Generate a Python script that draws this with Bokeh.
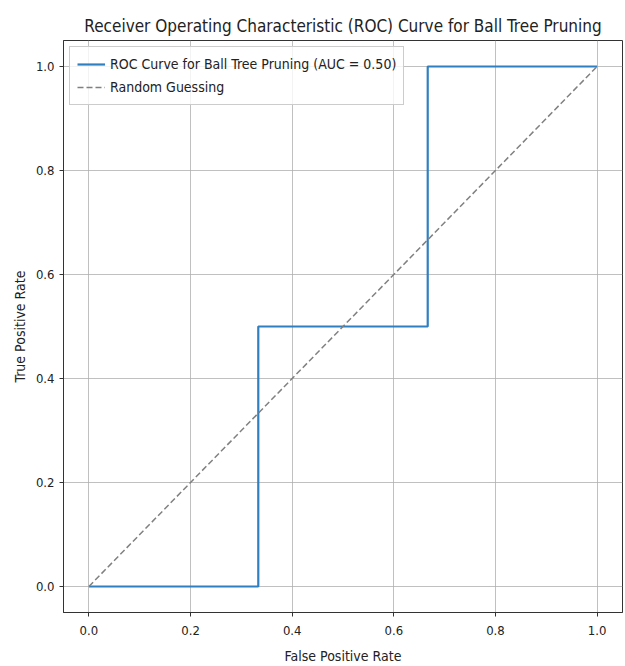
from bokeh.plotting import figure
from bokeh.models import Range1d, Legend, LegendItem, FixedTicker, CustomJSTickFormatter
from bokeh.embed import file_html
from bokeh.resources import INLINE

fpr = [0.0, 0.3333, 0.3333, 0.6667, 0.6667, 1.0]
tpr = [0.0, 0.0, 0.5, 0.5, 1.0, 1.0]
diag_x = [0.0, 1.0]
diag_y = [0.0, 1.0]
ticks = [0.0, 0.2, 0.4, 0.6, 0.8, 1.0]

FONT = "'Liberation Sans Narrow', 'DejaVu Sans Condensed', 'Roboto Condensed', 'DejaVu Sans', sans-serif"

p = figure(width=625, height=666, output_backend="svg", toolbar_location=None,
           x_range=Range1d(-0.05, 1.05), y_range=Range1d(-0.05, 1.05),
           title="Receiver Operating Characteristic (ROC) Curve for Ball Tree Pruning",
           min_border_left=63, min_border_right=3, min_border_top=40, min_border_bottom=53)

p.title.align = "center"
p.title.text_font = FONT
p.title.text_font_size = "17px"
p.title.text_font_style = "normal"
p.title.text_color = "#222222"

fmt = CustomJSTickFormatter(code="return tick.toFixed(1);")
for ax in (p.xaxis, p.yaxis):
    ax.ticker = FixedTicker(ticks=ticks)
    ax.formatter = fmt
    ax.major_label_text_font = FONT
    ax.major_label_text_font_size = "13px"
    ax.major_label_text_color = "#222222"
    ax.axis_label_text_font = FONT
    ax.axis_label_text_font_size = "14px"
    ax.axis_label_text_font_style = "normal"
    ax.axis_label_text_color = "#222222"
    ax.major_tick_in = 0
    ax.major_tick_out = 4
    ax.minor_tick_line_color = None
    ax.axis_line_color = "#333333"
    ax.major_tick_line_color = "#333333"

p.xaxis.major_label_standoff = 9
p.xaxis.axis_label_standoff = 10
p.xaxis.axis_label = "False Positive Rate"
p.yaxis.axis_label = "True Positive Rate"

p.outline_line_color = "#333333"
p.xgrid.ticker = FixedTicker(ticks=ticks)
p.ygrid.ticker = FixedTicker(ticks=ticks)
p.grid.grid_line_color = "#b0b0b0"
p.grid.grid_line_width = 0.8

r1 = p.line(fpr, tpr, line_color="#2f7fc1", line_width=2.2)
r2 = p.line(diag_x, diag_y, line_color="#808080", line_width=1.5, line_dash="6 3")

legend = Legend(items=[
    LegendItem(label="ROC Curve for Ball Tree Pruning (AUC = 0.50)", renderers=[r1]),
    LegendItem(label="Random Guessing", renderers=[r2]),
], location="top_left")
legend.label_text_font = FONT
legend.label_text_font_size = "14px"
legend.label_text_color = "#222222"
legend.border_line_color = "#cccccc"
legend.border_line_alpha = 1
legend.background_fill_alpha = 0.8
legend.glyph_width = 28
legend.label_height = 20
legend.glyph_height = 20
legend.spacing = 3
legend.padding = 7
legend.margin = 6
p.add_layout(legend)

open("out.html", "w").write(file_html(p, INLINE))
